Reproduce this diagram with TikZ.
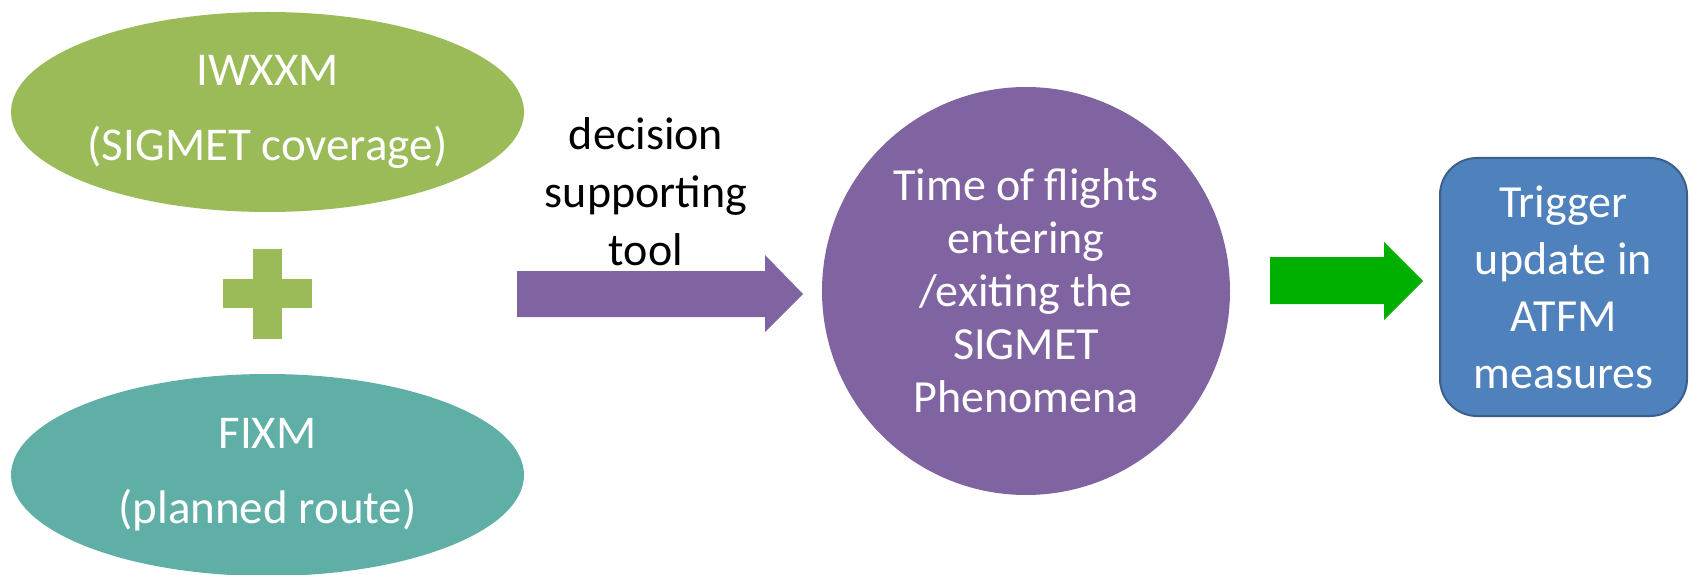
\documentclass[tikz,border=0pt]{standalone}
\usepackage{fontspec}
\setmainfont{Carlito}
\usetikzlibrary{positioning,shapes.geometric}
\definecolor{iwxxmgreen}{HTML}{9BBB59}
\definecolor{fixmteal}{HTML}{5FAFA6}
\definecolor{toolpurple}{HTML}{8064A2}
\definecolor{atfmblue}{HTML}{4F81BD}
\definecolor{atfmedge}{HTML}{3A5F8B}
\definecolor{arrowgreen}{HTML}{00B000}

\begin{document}
\begin{tikzpicture}[x=1pt,y=-1pt,every node/.style={align=center,inner sep=0pt},
    model/.style={ellipse,minimum width=513pt,minimum height=200pt,text=white,font=\fontsize{47}{75}\selectfont},
    bodytext/.style={font=\fontsize{46}{53}\selectfont}]
  \useasboundingbox (0,0) rectangle (1692,575);
  % input models
  \node (iwxxm) [model,fill=iwxxmgreen] at (267.5,112) {IWXXM\\(SIGMET coverage)};
  \node (fixm) [model,fill=fixmteal,minimum height=202pt] at (267.5,475) {FIXM\\(planned route)};
  \fill[iwxxmgreen] (253,249) rectangle (282,339);
  \fill[iwxxmgreen] (223,279) rectangle (312,308);
  % decision supporting tool
  \node (dst) [font=\fontsize{46}{58}\selectfont] at (646,192) {decision\\supporting\\tool};
  \fill[toolpurple] (517,271) -- (765,271) -- (765,255) -- (803,294) -- (765,332) -- (765,317) -- (517,317) -- cycle;
  \node (phen) [circle,fill=toolpurple,minimum size=408pt,bodytext,text=white] at (1026,291)
    {Time of flights\\entering\\/exiting the\\SIGMET\\Phenomena};
  % result
  \fill[arrowgreen] (1270,257) -- (1384,257) -- (1384,242) -- (1423,281) -- (1384,320) -- (1384,304) -- (1270,304) -- cycle;
  \node (atfm) [rounded corners=37pt,fill=atfmblue,draw=atfmedge,line width=2pt,
    minimum width=247pt,minimum height=258pt,text=white,font=\fontsize{46}{57}\selectfont]
    at (1563.5,287) {Trigger\\update in\\ATFM\\measures};
\end{tikzpicture}
\end{document}
